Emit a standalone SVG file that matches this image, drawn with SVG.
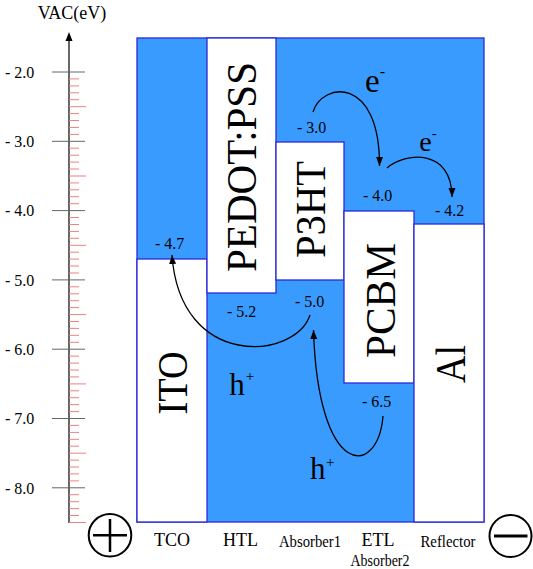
<svg xmlns="http://www.w3.org/2000/svg" width="533" height="569" viewBox="0 0 533 569">
<style>
text{font-family:"Liberation Serif","Times New Roman",serif;fill:#000}
.lbl{font-size:16px}
.big{font-size:43px;text-anchor:middle}
.bot{font-size:18px;text-anchor:middle}
.sm{font-size:16px;text-anchor:middle}
.box{fill:#fff;stroke:#2a2ad6;stroke-width:1.3}
.con{fill:none;stroke:#000;stroke-width:1.3}
</style>
<defs>
<marker id="ah" markerUnits="userSpaceOnUse" markerWidth="10" markerHeight="10" viewBox="0 0 10 10" refX="9" refY="5" orient="auto">
<path d="M0,1.5 L9,5 L0,8.5 Z" fill="#000"/>
</marker>
</defs>
<rect width="533" height="569" fill="#fff"/>
<g id="axis">
<text x="72" y="18.5" style="font-size:18px;text-anchor:middle">VAC(eV)</text>
<path d="M69,523V40" stroke="#000" stroke-width="1.2"/>
<path d="M69,32L65.5,41L72.5,41Z" fill="#000"/>
<path d="M69,78.9h10M69,85.9h10M69,92.8h10M69,99.7h10M69,113.6h10M69,120.5h10M69,127.4h10M69,134.4h10M69,148.2h10M69,155.2h10M69,162.1h10M69,169h10M69,182.9h10M69,189.8h10M69,196.7h10M69,203.7h10M69,217.5h10M69,224.5h10M69,231.4h10M69,238.3h10M69,252.2h10M69,259.1h10M69,266h10M69,273h10M69,286.8h10M69,293.8h10M69,300.7h10M69,307.6h10M69,321.5h10M69,328.4h10M69,335.3h10M69,342.3h10M69,356.1h10M69,363.1h10M69,370h10M69,376.9h10M69,390.8h10M69,397.7h10M69,404.6h10M69,411.6h10M69,425.4h10M69,432.4h10M69,439.3h10M69,446.2h10M69,460.1h10M69,467h10M69,473.9h10M69,480.9h10M69,494.7h10M69,501.7h10M69,508.6h10M69,515.5h10" stroke="#ee8080" stroke-width="1"/>
<path d="M69,106.7h17M69,176h17M69,245.3h17M69,314.6h17M69,383.9h17M69,453.2h17M69,522.5h17" stroke="#ee8080" stroke-width="1"/>
<path d="M52,72h33M52,141.3h33M52,210.6h33M52,279.9h33M52,349.2h33M52,418.5h33M52,487.8h33" stroke="#666" stroke-width="1"/>
<text class="lbl" x="5" y="77.8">- 2.0</text>
<text class="lbl" x="5" y="147.1">- 3.0</text>
<text class="lbl" x="5" y="216.4">- 4.0</text>
<text class="lbl" x="5" y="285.7">- 5.0</text>
<text class="lbl" x="5" y="355">- 6.0</text>
<text class="lbl" x="5" y="424.3">- 7.0</text>
<text class="lbl" x="5" y="493.6">- 8.0</text>
</g>
<g id="background">
<rect x="137" y="38" width="347" height="484" fill="#3a9bff" stroke="#2a2ad6" stroke-width="1.3"/>
</g>
<g id="ITO">
<rect class="box" x="137" y="259" width="70" height="263"/>
<text class="big" transform="translate(172.5,383) rotate(-90)" y="14.5" textLength="63" lengthAdjust="spacingAndGlyphs">ITO</text>
<text class="lbl" x="155" y="248.5">- 4.7</text>
<text class="bot" x="172" y="546">TCO</text>
</g>
<g id="PEDOT">
<rect class="box" x="207" y="38" width="69" height="255"/>
<text class="big" transform="translate(241.7,167) rotate(-90)" y="14.5" textLength="210" lengthAdjust="spacingAndGlyphs">PEDOT:PSS</text>
<text class="lbl" x="227" y="317">- 5.2</text>
<text class="bot" x="240.5" y="546">HTL</text>
</g>
<g id="P3HT">
<rect class="box" x="276" y="142" width="68" height="138"/>
<text class="big" transform="translate(310,209.5) rotate(-90)" y="14.5" textLength="97" lengthAdjust="spacingAndGlyphs">P3HT</text>
<text class="lbl" x="297" y="132.5">- 3.0</text>
<text class="lbl" x="295" y="307">- 5.0</text>
<text class="sm" x="310" y="546.5" textLength="62" lengthAdjust="spacingAndGlyphs">Absorber1</text>
</g>
<g id="PCBM">
<rect class="box" x="344" y="211" width="70" height="172"/>
<text class="big" transform="translate(380,300.5) rotate(-90)" y="14.5" textLength="115" lengthAdjust="spacingAndGlyphs">PCBM</text>
<text class="lbl" x="363" y="200.5">- 4.0</text>
<text class="lbl" x="362" y="407">- 6.5</text>
<text class="bot" x="378" y="546">ETL</text>
<text class="sm" x="380" y="565.5" textLength="59" lengthAdjust="spacingAndGlyphs">Absorber2</text>
</g>
<g id="Al">
<rect class="box" x="414" y="224" width="70" height="298"/>
<text class="big" transform="translate(450,364) rotate(-90)" y="14.5" textLength="38" lengthAdjust="spacingAndGlyphs">Al</text>
<text class="lbl" x="435" y="215.5">- 4.2</text>
<text class="sm" x="448" y="546.5" textLength="55" lengthAdjust="spacingAndGlyphs">Reflector</text>
</g>
<g id="plus">
<circle cx="110" cy="535.3" r="21.3" fill="none" stroke="#000" stroke-width="2"/>
<path d="M93,535.3h34M110,519v33" stroke="#000" stroke-width="2.5"/>
</g>
<g id="minus">
<circle cx="510.5" cy="536" r="21" fill="none" stroke="#000" stroke-width="2"/>
<path d="M494,536h33.5" stroke="#000" stroke-width="3"/>
</g>
<g id="labels">
<text x="365" y="92" style="font-size:33px">e<tspan style="font-size:16px" dy="-15">-</tspan></text>
<text x="419.3" y="150.7" style="font-size:28px">e<tspan style="font-size:15px" dy="-12.7">-</tspan></text>
<text x="229.3" y="395" style="font-size:31px">h<tspan style="font-size:15px" dx="1" dy="-14">+</tspan></text>
<text x="310" y="479.3" style="font-size:31px">h<tspan style="font-size:15px" dx="0.5" dy="-12.8">+</tspan></text>
</g>
<g id="connectors">
<path class="con" d="M313,112 C322,82 380,75 379.5,166" marker-end="url(#ah)"/>
<path class="con" d="M387,168 C405,152 452,148 452,197" marker-end="url(#ah)"/>
<path class="con" d="M310,315 C295,360 180,370 172,255" marker-end="url(#ah)"/>
<path class="con" d="M383,416 C378,478 318,480 313.5,330" marker-end="url(#ah)"/>
</g>
</svg>
